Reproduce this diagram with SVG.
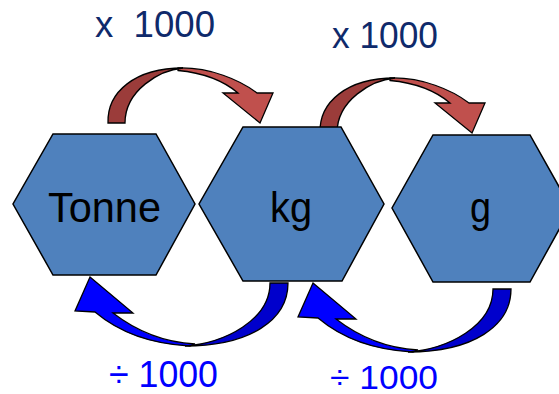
<svg xmlns="http://www.w3.org/2000/svg" width="559" height="394" viewBox="0 0 559 394">
<style>
.hex{fill:#4F81BD;stroke:#000;stroke-width:1.5;stroke-linejoin:miter}
.ntext{font-family:"Liberation Sans",Arial,sans-serif;font-size:43px;fill:#000}
.lbl{font-family:"Liberation Sans",Arial,sans-serif;font-size:36px}
.up{fill:#0F2A6B}
.down{fill:#0000FF}
.rd{fill:#9B3C3A;stroke:#000;stroke-width:1.3;stroke-linejoin:miter}
.rl{fill:#C0504D;stroke:#000;stroke-width:1.3;stroke-linejoin:miter}
.bd{fill:#0000CC;stroke:#000;stroke-width:1.3;stroke-linejoin:miter}
.bl{fill:#0000FF;stroke:#000;stroke-width:1.3;stroke-linejoin:miter}
</style>
<defs>
<g id="redArrow">
<path class="rl" d="M178,68 C210,67 240,80 257,93 L273,93 L260,123 L223,93 L238,93 C225,82 205,73 178,70.5 Z"/>
<path class="rd" d="M108,123 C107,92 135,68 183,68 C160,70 125,90 125,123 Z"/>
</g>
<g id="blueArrow">
<path class="bl" d="M90,277 L133,313 L113,313 C135,330 160,342 195,344 L190,346 C150,344 120,333 95,312 L75,311 Z"/>
<path class="bd" d="M288,283 C288,320 250,346 185,346 C225,343 270,320 270,283 Z"/>
</g>
</defs>
<g id="connectors">
<use href="#redArrow"/>
<use href="#redArrow" transform="translate(212,10)"/>
<use href="#blueArrow"/>
<use href="#blueArrow" transform="translate(223,6)"/>
</g>
<g id="node-tonne">
<polygon class="hex" points="53,134 156,134 195,204 156,275 53,275 13,204"/>
<text class="ntext" x="48" y="222" textLength="113" lengthAdjust="spacingAndGlyphs">Tonne</text>
</g>
<g id="node-kg">
<polygon class="hex" points="243,127 341,127 384,204 342,281 243,281 199,204"/>
<text class="ntext" x="270" y="222" textLength="42" lengthAdjust="spacingAndGlyphs">kg</text>
</g>
<g id="node-g">
<polygon class="hex" points="433,135 530,135 571,208 530,282 433,282 392,208"/>
<text class="ntext" x="470" y="222" textLength="21" lengthAdjust="spacingAndGlyphs">g</text>
</g>
<g id="labels">
<text class="lbl up" x="95" y="37" textLength="120" lengthAdjust="spacingAndGlyphs" xml:space="preserve">x  1000</text>
<text class="lbl up" x="332" y="48" textLength="106" lengthAdjust="spacingAndGlyphs">x 1000</text>
<text class="lbl down" x="109" y="387" textLength="109" lengthAdjust="spacingAndGlyphs">÷ 1000</text>
<text class="lbl down" x="330" y="389" textLength="108" lengthAdjust="spacingAndGlyphs" style="font-size:34px">÷ 1000</text>
</g>
</svg>
